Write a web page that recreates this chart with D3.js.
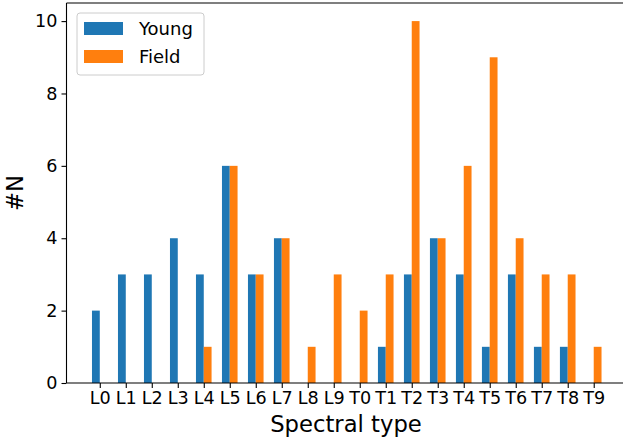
<!DOCTYPE html>
<html>
<head>
<meta charset="utf-8">
<script src="https://cdn.jsdelivr.net/npm/d3@7"></script>
<style>
  body { margin: 0; background: #fff; }
  svg text { font-family: "DejaVu Sans", sans-serif; fill: #000; }
</style>
</head>
<body>
<div id="chart"></div>
<script>
var types = ["L0","L1","L2","L3","L4","L5","L6","L7","L8","L9",
             "T0","T1","T2","T3","T4","T5","T6","T7","T8","T9"];
var young = [2,3,3,4,3,6,3,4,0,0,0,1,3,4,3,1,3,1,1,0];
var field = [0,0,0,0,1,6,3,4,1,3,2,3,10,4,6,9,4,3,3,1];
var yTicks = [0,2,4,6,8,10];

var W = 623, H = 444;
var BAR = 0.3;

var svg = d3.select("#chart").append("svg")
    .attr("width", W).attr("height", H);

// x: data units, extends past the right edge like the cropped figure
var x = d3.scaleLinear().domain([-1.28, 20.28]).range([66.5, 627]);
var y = d3.scaleLinear().domain([0, 10.5]).range([383, 3]);

var g = svg.append("g");

g.selectAll(".young").data(young).enter().append("rect")
    .attr("class", "young")
    .attr("x", function(d, i) { return x(i - BAR); })
    .attr("width", x(BAR) - x(0))
    .attr("y", function(d) { return y(d); })
    .attr("height", function(d) { return y(0) - y(d); })
    .attr("fill", "#1f77b4");

g.selectAll(".field").data(field).enter().append("rect")
    .attr("class", "field")
    .attr("x", function(d, i) { return x(i); })
    .attr("width", x(BAR) - x(0))
    .attr("y", function(d) { return y(d); })
    .attr("height", function(d) { return y(0) - y(d); })
    .attr("fill", "#ff7f0e");

// axes
var xAxis = d3.axisBottom(x)
    .tickValues(d3.range(types.length))
    .tickFormat(function(i) { return types[i]; })
    .tickSize(5).tickPadding(4).tickSizeOuter(0);
var yAxis = d3.axisLeft(y).tickValues(yTicks)
    .tickSize(5).tickPadding(4).tickSizeOuter(0);

var gx = svg.append("g").attr("transform", "translate(0,383)").call(xAxis);
var gy = svg.append("g").attr("transform", "translate(66.5,0)").call(yAxis);
[gx, gy].forEach(function(a) {
  a.selectAll("text").style("font-size", "17.6px").attr("fill", "#000");
  a.selectAll("line, path").attr("stroke", "#000").attr("stroke-width", 1.1);
  a.select(".domain").remove();
});

// spines
svg.append("line").attr("x1", 66.5).attr("x2", 66.5).attr("y1", 3).attr("y2", 383)
    .attr("stroke", "#000").attr("stroke-width", 1.1);
svg.append("line").attr("x1", 66.5).attr("x2", W).attr("y1", 383).attr("y2", 383)
    .attr("stroke", "#000").attr("stroke-width", 1.1);
svg.append("line").attr("x1", 66.5).attr("x2", W).attr("y1", 3).attr("y2", 3)
    .attr("stroke", "#000").attr("stroke-width", 1.1);

// axis labels
svg.append("text")
    .attr("x", 346).attr("y", 432)
    .attr("text-anchor", "middle")
    .style("font-size", "22.7px")
    .text("Spectral type");

svg.append("text")
    .attr("transform", "translate(23,193) rotate(-90)")
    .attr("text-anchor", "middle")
    .style("font-size", "22.7px")
    .text("#N");

// legend
var leg = svg.append("g").attr("transform", "translate(77,13)");
leg.append("rect")
    .attr("width", 127).attr("height", 62).attr("rx", 3)
    .attr("fill", "#fff").attr("fill-opacity", 0.8)
    .attr("stroke", "#ccc").attr("stroke-width", 1);
var items = [["Young", "#1f77b4"], ["Field", "#ff7f0e"]];
items.forEach(function(it, i) {
  leg.append("rect").attr("x", 7).attr("y", 9 + i * 28)
      .attr("width", 39).attr("height", 13).attr("fill", it[1]);
  leg.append("text").attr("x", 62).attr("y", 22 + i * 28)
      .style("font-size", "18px").text(it[0]);
});
</script>
</body>
</html>
